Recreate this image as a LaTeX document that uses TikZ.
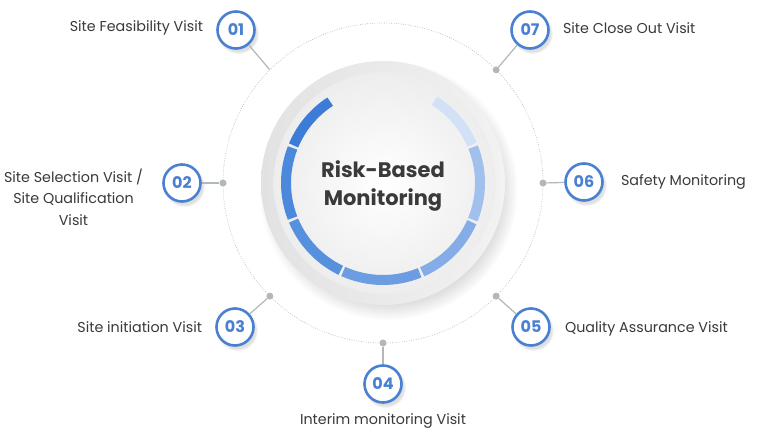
\documentclass[tikz,border=0pt]{standalone}
\usepackage{fontspec}
\setmainfont{Poppins}
\usetikzlibrary{positioning,shadows,fadings}
\definecolor{txtgray}{HTML}{3A3A3A}
\definecolor{badgeblue}{HTML}{4A80D2}
\definecolor{pingray}{HTML}{B2B8B8}
\definecolor{rimgray}{HTML}{E2E2E2}
\definecolor{segA}{HTML}{3C7CD7}
\definecolor{segB}{HTML}{4C88DB}
\definecolor{segC}{HTML}{5790DD}
\definecolor{segD}{HTML}{6C9CE1}
\definecolor{segE}{HTML}{84ACE6}
\definecolor{segF}{HTML}{A2C0EE}
\definecolor{segG}{HTML}{D3E1F7}
\tikzset{
  badge/.style={circle, draw=badgeblue, line width=2.6pt, fill=white, minimum size=37pt,
    inner sep=0pt, text=badgeblue, font=\bfseries\fontsize{16}{16}\selectfont,
    circular drop shadow={shadow xshift=2pt, shadow yshift=-3pt, shadow scale=1.12, opacity=.25}},
  lbl/.style={text=txtgray, font=\fontsize{14.3}{21.5}\selectfont, inner sep=0pt},
  stem/.style={draw=pingray, line width=1.2pt},
  pin/.style={circle, fill=pingray, inner sep=0pt, minimum size=7pt},
  guide/.style={draw=pingray, line width=.6pt, dash pattern=on .8pt off 1.6pt},
  seg/.style={line width=10pt},
}
\begin{document}
\begin{tikzpicture}[x=1pt,y=1pt]
	\useasboundingbox[fill=white] (0,0) rectangle (768,432);
	\coordinate (c) at (383,249);

	%dotted orbit
	\draw[guide] (c) circle (160);

	%central disk
	\node[circle, minimum size=244pt, inner sep=0pt, shading=axis, left color=rimgray, right color=rimgray!45,
		circular drop shadow={shadow xshift=5pt, shadow yshift=-7pt, shadow scale=1.06, opacity=.3}] (rim) at (c) {};
	\node[circle, minimum size=222pt, inner sep=0pt, inner color=white, outer color=white!93!black] (face) at ([xshift=1.5pt]c) {};

	%progress ring
	\foreach \s/\e/\col in {123/157.2/segA, 158.8/201.2/segB, 202.8/244.2/segC, 245.8/292.2/segD,
		293.8/336.2/segE, 337.8/381.7/segF, 383.3/418/segG}
		\draw[seg, \col] (c) ++(\s:97) arc (\s:\e:97);

	\node[text=txtgray, align=center, font=\bfseries\fontsize{21}{28}\selectfont] (title) at ([yshift=-3pt]c) {Risk-Based\\Monitoring};

	%pins on the orbit
	\path (c) ++(135:160) coordinate (d1);
	\foreach \n/\a in {2/180, 3/225, 4/270, 5/315, 6/0, 7/45}
		\path (c) ++(\a:160) node[pin] (d\n) {};

	%badges
	\node[badge] (b1) at (236,402) {01};
	\node[badge] (b2) at (182,249) {02};
	\node[badge] (b3) at (235,105) {03};
	\node[badge] (b4) at (383,48)  {04};
	\node[badge] (b5) at (531,105) {05};
	\node[badge] (b6) at (584,250) {06};
	\node[badge] (b7) at (530,402) {07};

	%stems
	\foreach \n in {1,...,7}
		\draw[stem] (d\n) -- (b\n);

	%labels
	\node[lbl, left=13pt of b1, yshift=2pt] (t1) {Site Feasibility Visit};
	\node[lbl, align=center, left=19pt of b2, yshift=-14pt] (t2) {Site Selection Visit /\\Site Qualification\\Visit};
	\node[lbl, left=13pt of b3] (t3) {Site initiation Visit};
	\node[lbl, below=10pt of b4] (t4) {Interim monitoring Visit};
	\node[lbl, right=14pt of b5, yshift=-2pt] (t5) {Quality Assurance Visit};
	\node[lbl, right=17pt of b6] (t6) {Safety Monitoring};
	\node[lbl, right=13pt of b7, yshift=2pt] (t7) {Site Close Out Visit};
\end{tikzpicture}
\end{document}
